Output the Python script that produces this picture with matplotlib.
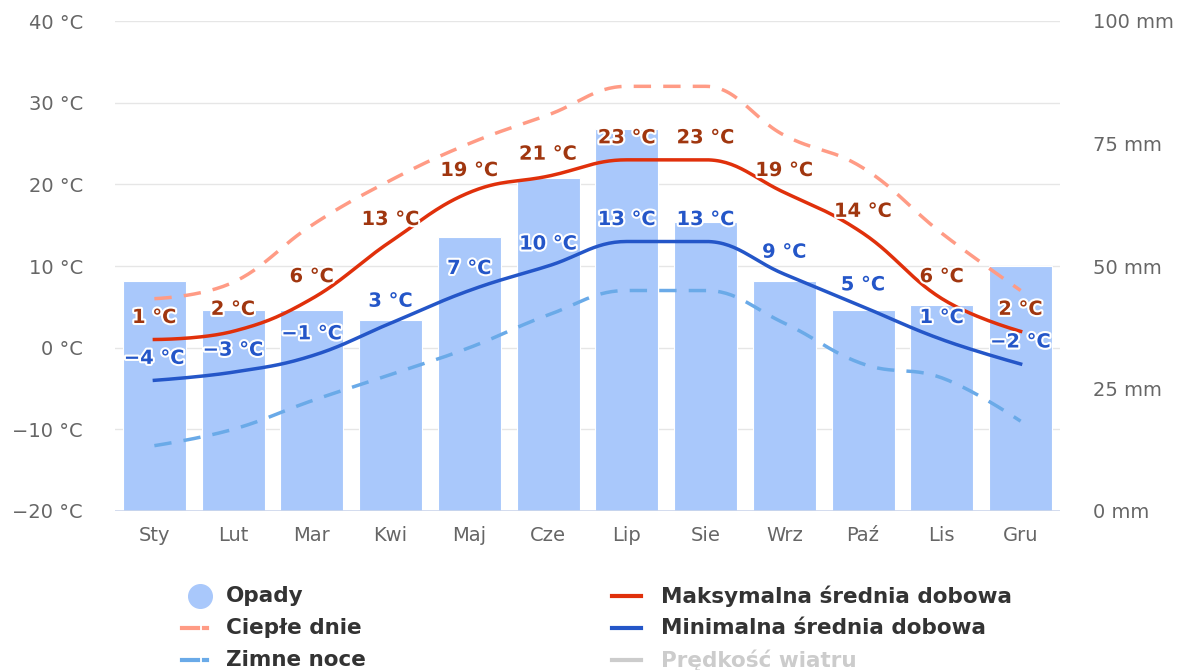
import numpy as np
import matplotlib
matplotlib.use("Agg")
import matplotlib.pyplot as plt
import matplotlib.patheffects as pe
from matplotlib.lines import Line2D

plt.rcParams["font.family"] = ["DejaVu Sans"]

months = ["Sty", "Lut", "Mar", "Kwi", "Maj", "Cze", "Lip", "Sie", "Wrz", "Paź", "Lis", "Gru"]
opady = [47, 41, 41, 39, 56, 68, 78, 59, 47, 41, 42, 50]
t_max = [1, 2, 6, 13, 19, 21, 23, 23, 19, 14, 6, 2]
t_min = [-4, -3, -1, 3, 7, 10, 13, 13, 9, 5, 1, -2]
cieple_dnie = [6, 8, 15, 20.5, 25, 28.5, 32, 32, 26, 22, 14, 7]
zimne_noce = [-12, -10, -6.5, -3.3, 0, 4, 7, 7, 3, -2, -3.7, -9]

C_BAR = "#a9c8fb"
C_MAX = "#e0300b"
C_MIN = "#2456c8"
C_WARM = "#ff9b85"
C_COLD = "#6aaae8"
C_MAXLBL = "#a0360f"
C_MINLBL = "#2456c8"


def spline(y, smoothing=1.5, n=30):
    # highcharts-like bezier spline through the points
    x = np.arange(len(y), dtype=float)
    y = np.asarray(y, dtype=float)
    xs, ys = [x[0]], [y[0]]
    left, right = [], []
    for i in range(len(y)):
        if i == 0 or i == len(y) - 1:
            left.append((x[i], y[i]))
            right.append((x[i], y[i]))
            continue
        d = smoothing + 1
        lx = (smoothing * x[i] + x[i - 1]) / d
        ly = (smoothing * y[i] + y[i - 1]) / d
        rx = (smoothing * x[i] + x[i + 1]) / d
        ry = (smoothing * y[i] + y[i + 1]) / d
        corr = ((ry - ly) * (rx - x[i])) / (rx - lx) + y[i] - ry
        ly += corr
        ry += corr
        if ly > max(y[i - 1], y[i]):
            ly = max(y[i - 1], y[i]); ry = 2 * y[i] - ly
        elif ly < min(y[i - 1], y[i]):
            ly = min(y[i - 1], y[i]); ry = 2 * y[i] - ly
        if ry > max(y[i + 1], y[i]):
            ry = max(y[i + 1], y[i]); ly = 2 * y[i] - ry
        elif ry < min(y[i + 1], y[i]):
            ry = min(y[i + 1], y[i]); ly = 2 * y[i] - ry
        left.append((lx, ly))
        right.append((rx, ry))
    t = np.linspace(0, 1, n)[1:]
    for i in range(len(y) - 1):
        p0 = np.array([x[i], y[i]])
        p1 = np.array(right[i])
        p2 = np.array(left[i + 1])
        p3 = np.array([x[i + 1], y[i + 1]])
        pts = ((1 - t) ** 3)[:, None] * p0 + (3 * (1 - t) ** 2 * t)[:, None] * p1 \
            + (3 * (1 - t) * t ** 2)[:, None] * p2 + (t ** 3)[:, None] * p3
        xs.extend(pts[:, 0]); ys.extend(pts[:, 1])
    return np.array(xs), np.array(ys)


fig = plt.figure(figsize=(11.83, 6.70), dpi=100)
ax = fig.add_axes([115 / 1183, 1 - 511 / 670, 945 / 1183, 490 / 670])
ax2 = ax.twinx()
ax2.set_zorder(0)
ax.set_zorder(1)
ax.patch.set_visible(False)

x = np.arange(12)
ax2.bar(x, opady, width=0.8, color=C_BAR, edgecolor="white", linewidth=0.8, zorder=2)
ax2.set_ylim(0, 100)
ax2.set_yticks([0, 25, 50, 75, 100])
ax2.set_yticklabels([f"{v} mm" for v in [0, 25, 50, 75, 100]])

ax.set_xlim(-0.5, 11.5)
ax.set_ylim(-20, 40)
ax.set_yticks(range(-20, 41, 10))
ax.set_yticklabels([f"{v} °C".replace("-", "−") for v in range(-20, 41, 10)])
ax.set_xticks(x)
ax.set_xticklabels(months)

for a in (ax, ax2):
    for s in a.spines.values():
        s.set_visible(False)
    a.tick_params(length=0, labelsize=14, colors="#666666")
ax.tick_params(axis="y", pad=23)
ax2.tick_params(axis="y", pad=24)
ax.tick_params(axis="x", pad=11)
for v in range(-10, 41, 10):
    ax2.axhline((v + 20) / 60 * 100, color="#e6e6e6", lw=1, zorder=1)
ax2.axhline(0, color="#ccd6eb", lw=1.2, zorder=3)

sx, sy = spline(cieple_dnie)
ax.plot(sx, sy, color=C_WARM, lw=2.5, dashes=(5, 3.5), zorder=3)
sx, sy = spline(zimne_noce)
ax.plot(sx, sy, color=C_COLD, lw=2.5, dashes=(5, 3.5), zorder=3)
sx, sy = spline(t_max)
ax.plot(sx, sy, color=C_MAX, lw=2.5, zorder=4)
sx, sy = spline(t_min)
ax.plot(sx, sy, color=C_MIN, lw=2.5, zorder=4)

halo = [pe.withStroke(linewidth=3, foreground="white")]
for i in range(12):
    ax.annotate(f"{t_max[i]} °C".replace("-", "−"), (i, t_max[i]), xytext=(0, 9),
                textcoords="offset points", ha="center", va="bottom", fontsize=14,
                fontweight="bold", color=C_MAXLBL, path_effects=halo, zorder=6)
    ax.annotate(f"{t_min[i]} °C".replace("-", "−"), (i, t_min[i]), xytext=(0, 9),
                textcoords="offset points", ha="center", va="bottom", fontsize=14,
                fontweight="bold", color=C_MINLBL, path_effects=halo, zorder=6)

# legend, drawn by hand in pixel positions
W, H = 1183, 670
def fx(px): return px / W
def fy(py): return 1 - py / H

items = [
    (190, 596, "Opady", "circle", C_BAR, "#333333"),
    (190, 628, "Ciepłe dnie", "dash", C_WARM, "#333333"),
    (190, 660, "Zimne noce", "dash", C_COLD, "#333333"),
    (625, 596, "Maksymalna średnia dobowa", "line", C_MAX, "#333333"),
    (625, 628, "Minimalna średnia dobowa", "line", C_MIN, "#333333"),
    (625, 660, "Prędkość wiatru", "line", "#cccccc", "#cccccc"),
]
for cx, cy, label, kind, col, tcol in items:
    if kind == "circle":
        fig.add_artist(Line2D([fx(cx + 10)], [fy(cy)], marker="o", markersize=17,
                              color=col, linestyle="none"))
    elif kind == "dash":
        fig.add_artist(Line2D([fx(cx - 8), fx(cx + 8)], [fy(cy), fy(cy)], color=col, lw=3))
        fig.add_artist(Line2D([fx(cx + 14), fx(cx + 17)], [fy(cy), fy(cy)], color=col, lw=3))
    else:
        fig.add_artist(Line2D([fx(cx - 13), fx(cx + 16)], [fy(cy), fy(cy)], color=col, lw=3))
    fig.text(fx(cx + 36), fy(cy), label, fontsize=15.5, fontweight="bold", color=tcol,
             va="center", ha="left")

fig.savefig("out.png", dpi=100)
